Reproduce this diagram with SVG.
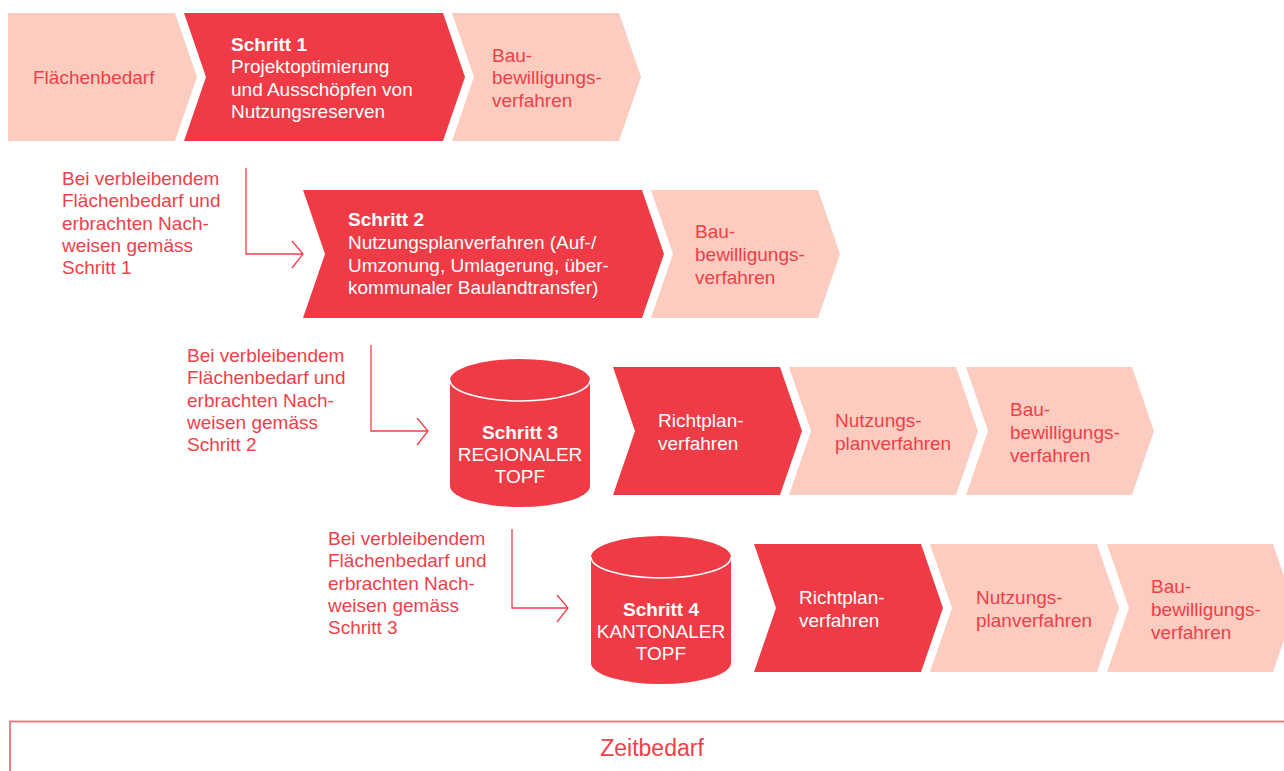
<svg xmlns="http://www.w3.org/2000/svg" width="1284" height="771" viewBox="0 0 1284 771">
  <style>
    .red { fill: #ef3b45; }
    .pale { fill: #fbccbf; }
    text { font-family: "Liberation Sans", Arial, sans-serif; font-size: 19px; }
    .w { fill: #ffffff; }
    .r { fill: #ef3f49; }
    .b { font-weight: 700; }
    .c { text-anchor: middle; }
    .conn { fill: none; stroke: #ef3f49; stroke-width: 1.3; }
    .rim { fill: none; stroke: #ffffff; stroke-width: 1.6; }
  </style>

  <!-- Row 1 -->
  <g id="flaechenbedarf">
    <polygon class="pale" points="8,13 175,13 197,77 175,141 8,141"/>
    <text class="r" x="33" y="84">Flächenbedarf</text>
  </g>
  <g id="schritt1">
    <polygon class="red" points="184,13 443,13 465,77 443,141 184,141 206,77"/>
    <text class="w" x="231" y="51"><tspan class="b">Schritt 1</tspan><tspan x="231" dy="22.3">Projektoptimierung</tspan><tspan x="231" dy="22.3">und Ausschöpfen von</tspan><tspan x="231" dy="22.3">Nutzungsreserven</tspan></text>
  </g>
  <g id="bau1">
    <polygon class="pale" points="452,13 619,13 641,77 619,141 452,141 474,77"/>
    <text class="r" x="492" y="62">Bau-<tspan x="492" dy="22.3">bewilligungs-</tspan><tspan x="492" dy="22.3">verfahren</tspan></text>
  </g>

  <!-- Row 2 -->
  <g id="label1">
    <text class="r" x="62" y="185">Bei verbleibendem<tspan x="62" dy="22.3">Flächenbedarf und</tspan><tspan x="62" dy="22.3">erbrachten Nach-</tspan><tspan x="62" dy="22.3">weisen gemäss</tspan><tspan x="62" dy="22.3">Schritt 1</tspan></text>
  </g>
  <g id="schritt2">
    <polygon class="red" points="303,190 642,190 664,254 642,318 303,318 325,254"/>
    <text class="w" x="348" y="226"><tspan class="b">Schritt 2</tspan><tspan x="348" dy="22.8">Nutzungsplanverfahren (Auf-/</tspan><tspan x="348" dy="22.8">Umzonung, Umlagerung, über-</tspan><tspan x="348" dy="22.8">kommunaler Baulandtransfer)</tspan></text>
  </g>
  <g id="bau2">
    <polygon class="pale" points="651,190 818,190 840,254 818,318 651,318 673,254"/>
    <text class="r" x="695" y="238">Bau-<tspan x="695" dy="22.8">bewilligungs-</tspan><tspan x="695" dy="22.8">verfahren</tspan></text>
  </g>

  <!-- Row 3 -->
  <g id="label2">
    <text class="r" x="187" y="362">Bei verbleibendem<tspan x="187" dy="22.3">Flächenbedarf und</tspan><tspan x="187" dy="22.3">erbrachten Nach-</tspan><tspan x="187" dy="22.3">weisen gemäss</tspan><tspan x="187" dy="22.3">Schritt 2</tspan></text>
  </g>
  <g id="schritt3">
    <path class="red" d="M450,380 A70,21 0 0 1 590,380 L590,486 A70,21 0 0 1 450,486 Z"/>
    <path class="rim" d="M450,380 A70,21 0 0 0 590,380"/>
    <text class="w c" x="520" y="439"><tspan class="b">Schritt 3</tspan><tspan x="520" dy="22">REGIONALER</tspan><tspan x="520" dy="22">TOPF</tspan></text>
  </g>
  <g id="richtplan3">
    <polygon class="red" points="613,367 780,367 802,431 780,495 613,495 635,431"/>
    <text class="w" x="658" y="427">Richtplan-<tspan x="658" dy="22.8">verfahren</tspan></text>
  </g>
  <g id="nutzung3">
    <polygon class="pale" points="789,367 956,367 978,431 956,495 789,495 811,431"/>
    <text class="r" x="835" y="427">Nutzungs-<tspan x="835" dy="22.8">planverfahren</tspan></text>
  </g>
  <g id="bau3">
    <polygon class="pale" points="966,367 1132,367 1154,431 1132,495 966,495 988,431"/>
    <text class="r" x="1010" y="416">Bau-<tspan x="1010" dy="22.8">bewilligungs-</tspan><tspan x="1010" dy="22.8">verfahren</tspan></text>
  </g>

  <!-- Row 4 -->
  <g id="label3">
    <text class="r" x="328" y="545">Bei verbleibendem<tspan x="328" dy="22.3">Flächenbedarf und</tspan><tspan x="328" dy="22.3">erbrachten Nach-</tspan><tspan x="328" dy="22.3">weisen gemäss</tspan><tspan x="328" dy="22.3">Schritt 3</tspan></text>
  </g>
  <g id="schritt4">
    <path class="red" d="M591,557 A70,21 0 0 1 731,557 L731,663 A70,21 0 0 1 591,663 Z"/>
    <path class="rim" d="M591,557 A70,21 0 0 0 731,557"/>
    <text class="w c" x="661" y="616"><tspan class="b">Schritt 4</tspan><tspan x="661" dy="22">KANTONALER</tspan><tspan x="661" dy="22">TOPF</tspan></text>
  </g>
  <g id="richtplan4">
    <polygon class="red" points="754,544 921,544 943,608 921,672 754,672 776,608"/>
    <text class="w" x="799" y="604">Richtplan-<tspan x="799" dy="22.8">verfahren</tspan></text>
  </g>
  <g id="nutzung4">
    <polygon class="pale" points="930,544 1097,544 1119,608 1097,672 930,672 952,608"/>
    <text class="r" x="976" y="604">Nutzungs-<tspan x="976" dy="22.8">planverfahren</tspan></text>
  </g>
  <g id="bau4">
    <polygon class="pale" points="1107,544 1273,544 1295,608 1273,672 1107,672 1129,608"/>
    <text class="r" x="1151" y="593">Bau-<tspan x="1151" dy="22.8">bewilligungs-</tspan><tspan x="1151" dy="22.8">verfahren</tspan></text>
  </g>

  <!-- Connectors -->
  <g id="connectors">
    <path class="conn" d="M246,168 V254 H303 M292,241 L303,254 L292,268"/>
    <path class="conn" d="M371,345 V431 H428 M417,418 L428,431 L417,445"/>
    <path class="conn" d="M512,529 V608 H568 M557,595 L568,608 L557,622"/>
  </g>

  <!-- Time bar -->
  <g id="zeitbedarf">
    <rect x="10" y="721.5" width="1290" height="70" fill="none" stroke="#f07378" stroke-width="1.8"/>
    <text class="r c" x="652" y="756" style="font-size:23px">Zeitbedarf</text>
  </g>
</svg>
